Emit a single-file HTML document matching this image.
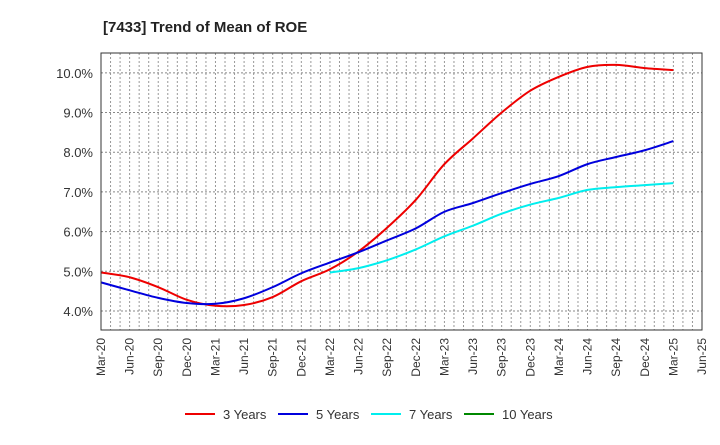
<!DOCTYPE html>
<html><head><meta charset="utf-8"><style>
body{margin:0;background:#fff;font-family:"Liberation Sans",Arial,sans-serif}
</style></head><body>
<svg id="c" width="720" height="440" xmlns="http://www.w3.org/2000/svg">
<text x="103" y="32" font-size="15" font-weight="bold" fill="#222">[7433]  Trend of Mean of ROE</text>
<g id="grid"></g><g id="series"></g><g id="axes"></g><g id="legend"></g>
</svg>
<script>
const xLabels=["Mar-20","Jun-20","Sep-20","Dec-20","Mar-21","Jun-21","Sep-21","Dec-21","Mar-22","Jun-22","Sep-22","Dec-22","Mar-23","Jun-23","Sep-23","Dec-23","Mar-24","Jun-24","Sep-24","Dec-24","Mar-25","Jun-25"];
const yTicks=[4,5,6,7,8,9,10];
const s3=[4.97,4.85,4.6,4.28,4.13,4.15,4.35,4.75,5.05,5.5,6.1,6.8,7.7,8.35,9.0,9.55,9.9,10.15,10.2,10.12,10.07];
const s5=[4.72,4.52,4.33,4.2,4.18,4.32,4.6,4.95,5.22,5.48,5.78,6.08,6.5,6.72,6.97,7.2,7.4,7.7,7.88,8.05,8.28];
const s7=[null,null,null,null,null,null,null,null,4.97,5.08,5.28,5.55,5.88,6.15,6.45,6.68,6.85,7.05,7.12,7.17,7.22];
const s10=[];
const L=101,R=702,T=53,B=330,yMin=3.52,yMax=10.5;
const NS="http://www.w3.org/2000/svg";
const xq=i=>L+(R-L)*i/21;
const y=v=>B-(v-yMin)/(yMax-yMin)*(B-T);
function mk(t,a,p){const e=document.createElementNS(NS,t);for(const k in a)e.setAttribute(k,a[k]);p.appendChild(e);return e;}
const g=document.getElementById('grid');
mk('rect',{x:L,y:T,width:R-L,height:B-T,fill:'#fff'},g);
for(let m=1;m<63;m++){const x=L+(R-L)*m/63;const l=mk('line',{x1:x,x2:x,y1:T,y2:B,stroke:'#999','stroke-dasharray':'2,2','stroke-width':1},g);

}
const ax=document.getElementById('axes');
yTicks.forEach(v=>{const l=mk('line',{x1:L,x2:R,y1:y(v),y2:y(v),stroke:'#888','stroke-dasharray':'2,2'},g);


const t=mk('text',{x:L-8,y:y(v)+5,'text-anchor':'end','font-size':13,fill:'#333'},ax);t.textContent=v.toFixed(1)+'%';

});
xLabels.forEach((s,i)=>{const x=xq(i);const t=mk('text',{transform:`translate(${x+4},${B+8}) rotate(-90)`,'text-anchor':'end','font-size':12,fill:'#333'},ax);t.textContent=s;

});
mk('rect',{x:L,y:T,width:R-L,height:B-T,fill:'none',stroke:'#333','stroke-width':1},ax);
function path(arr){const pts=[];arr.forEach((v,i)=>{if(v!=null)pts.push([xq(i),y(v)]);});if(pts.length<2)return '';
let d=`M${pts[0][0]},${pts[0][1]}`;for(let i=0;i<pts.length-1;i++){const p0=pts[i-1]||pts[i],p1=pts[i],p2=pts[i+1],p3=pts[i+2]||p2;
d+=` C${p1[0]+(p2[0]-p0[0])/6},${p1[1]+(p2[1]-p0[1])/6} ${p2[0]-(p3[0]-p1[0])/6},${p2[1]-(p3[1]-p1[1])/6} ${p2[0]},${p2[1]}`;}return d;}
const sg=document.getElementById('series');
const series=[[s3,'#e00','3 Years','series-3-years'],[s5,'#00d','5 Years','series-5-years'],[s7,'#0ee','7 Years','series-7-years'],[s10,'#080','10 Years','series-10-years']];
series.forEach(([a,c,n,id])=>{const d=path(a);if(d){const p=mk('path',{d,fill:'none',stroke:c,'stroke-width':2},sg);

}});
const lg=document.getElementById('legend');const lx=[185,278,371,464];
series.forEach(([a,c,n],i)=>{const gg=mk('g',{},lg);


mk('line',{x1:lx[i],x2:lx[i]+30,y1:414,y2:414,stroke:c,'stroke-width':2},gg);
const t=mk('text',{x:lx[i]+38,y:419,'font-size':13,fill:'#333'},gg);t.textContent=n;});
</script>
</body></html>
